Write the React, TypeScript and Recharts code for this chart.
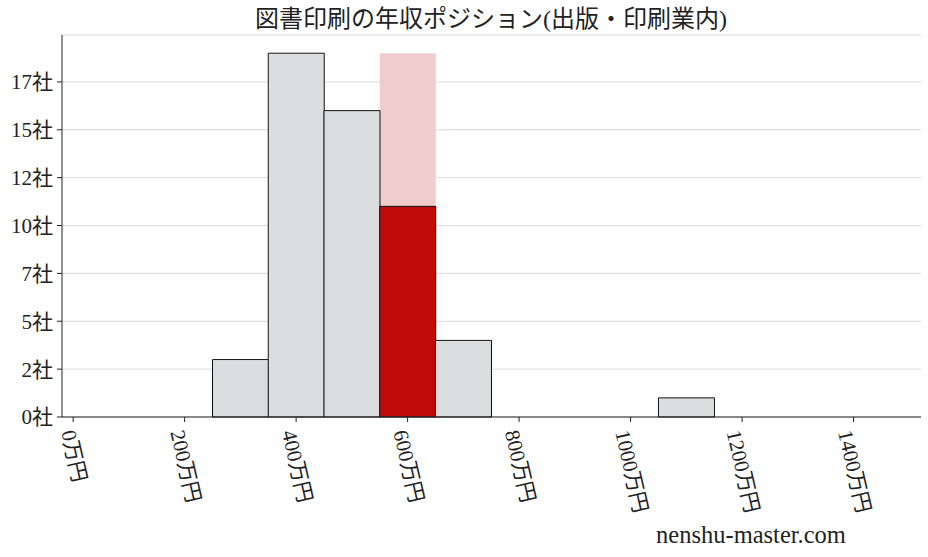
import React from 'react';
import { ComposedChart, Bar, Cell, XAxis, YAxis, CartesianGrid } from 'recharts';

// histogram bins (centre of each 100万円 bin) and number of companies in each
const binCenters = [300, 400, 500, 600, 700, 800, 900, 1000, 1100];
const companyCounts = [3, 19, 16, 11, 4, 0, 0, 0, 1];
// the bin this company falls in, and the height of the pale band behind it
const highlightBin = 600;
const highlightPeak = 19;

const xTicks = [0, 200, 400, 600, 800, 1000, 1200, 1400];
const yTicks = [0, 2.5, 5, 7.5, 10, 12.5, 15, 17.5];

const titleText = '図書印刷の年収ポジション(出版・印刷業内)';
const siteText = 'nenshu-master.com';

const data = binCenters.map((bin, i) => ({
  bin,
  count: companyCounts[i],
  peak: bin === highlightBin ? highlightPeak : 0,
}));

const FONT = "'Liberation Serif', 'Noto Sans CJK JP', serif";
const INK = '#222';

const RotatedTick = (props: any) => {
  const { x, y, payload } = props;
  const label = `${payload.value}万円`;
  const len = String(payload.value).length * 10.5 + 42;
  const shift = (len * 0.225 + 12) / 2;
  const ax = x - shift;
  const ay = y + 8;
  return (
    <text
      x={ax}
      y={ay}
      transform={`rotate(77 ${ax} ${ay})`}
      textAnchor="start"
      fontSize={21}
      fill={INK}
      fontFamily={FONT}
    >
      {label}
    </text>
  );
};

export default function App() {
  return (
    <div style={{ position: 'absolute', left: 0, top: 0, width: 928, height: 557, background: '#fff' }}>
      <ComposedChart
        width={928}
        height={557}
        data={data}
        margin={{ top: 35, right: 7, bottom: 0, left: 0 }}
        barCategoryGap={0}
        barGap={0}
      >
        <CartesianGrid vertical={false} stroke="#dadada" strokeWidth={1} yAxisId="left" xAxisId="main" />
        <XAxis
          xAxisId="main"
          dataKey="bin"
          type="number"
          domain={[-20, 1521]}
          ticks={xTicks}
          interval={0}
          height={140}
          tickSize={5}
          tickLine={{ stroke: INK }}
          axisLine={{ stroke: INK }}
          tick={<RotatedTick />}
        />
        <XAxis
          xAxisId="top"
          dataKey="bin"
          type="number"
          orientation="top"
          domain={[-20, 1521]}
          height={0}
          tick={false}
          tickLine={false}
          axisLine={{ stroke: INK }}
        />
        <YAxis
          yAxisId="left"
          type="number"
          domain={[0, 19.95]}
          ticks={yTicks}
          interval={0}
          width={62}
          tickSize={5}
          tickMargin={4}
          tickLine={{ stroke: INK }}
          axisLine={{ stroke: INK }}
          tick={{ fontSize: 21, fill: INK, fontFamily: FONT }}
          tickFormatter={(v: number) => `${Math.floor(v)}社`}
        />
        <YAxis
          yAxisId="right"
          orientation="right"
          type="number"
          domain={[0, 19.95]}
          width={0}
          tick={false}
          tickLine={false}
          axisLine={{ stroke: INK }}
        />
        <Bar
          xAxisId="top"
          yAxisId="left"
          dataKey="peak"
          fill="#f0cccc"
          isAnimationActive={false}
        />
        <Bar
          xAxisId="main"
          yAxisId="left"
          dataKey="count"
          stroke="#111"
          strokeWidth={1}
          isAnimationActive={false}
        >
          {data.map((d) => (
            <Cell key={d.bin} fill={d.bin === highlightBin ? '#c00b0b' : '#dcdddf'} />
          ))}
        </Bar>
      </ComposedChart>
      <svg
        width={928}
        height={557}
        style={{ position: 'absolute', left: 0, top: 0, pointerEvents: 'none' }}
      >
        <text x={491} y={27} textAnchor="middle" fontSize={24} fill={INK} fontFamily={FONT}>
          {titleText}
        </text>
        <text x={751} y={543} textAnchor="middle" fontSize={24.5} fill={INK} fontFamily={FONT}>
          {siteText}
        </text>
      </svg>
    </div>
  );
}
